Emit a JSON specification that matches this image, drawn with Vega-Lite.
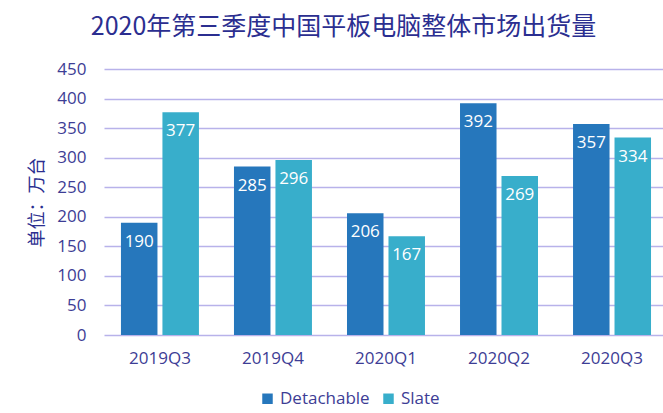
{
  "$schema": "https://vega.github.io/schema/vega-lite/v6.json",
  "autosize": "none",
  "width": 559,
  "height": 266,
  "padding": {"left": 104, "top": 69, "right": 0, "bottom": 78},
  "background": "white",
  "config": {
    "font": "Open Sans, Noto Sans CJK SC",
    "view": {"stroke": null}
  },
  "title": {
    "text": "2020年第三季度中国平板电脑整体市场出货量",
    "fontSize": 25,
    "fontWeight": "normal",
    "color": "#2B2E90",
    "font": "Noto Sans CJK SC",
    "anchor": "middle",
    "dx": -40,
    "offset": 20
  },
  "data": {
    "values": [
      {"quarter": "2019Q3", "type": "Detachable", "value": 190},
      {"quarter": "2019Q3", "type": "Slate", "value": 377},
      {"quarter": "2019Q4", "type": "Detachable", "value": 285},
      {"quarter": "2019Q4", "type": "Slate", "value": 296},
      {"quarter": "2020Q1", "type": "Detachable", "value": 206},
      {"quarter": "2020Q1", "type": "Slate", "value": 167},
      {"quarter": "2020Q2", "type": "Detachable", "value": 392},
      {"quarter": "2020Q2", "type": "Slate", "value": 269},
      {"quarter": "2020Q3", "type": "Detachable", "value": 357},
      {"quarter": "2020Q3", "type": "Slate", "value": 334}
    ]
  },
  "encoding": {
    "x": {
      "field": "quarter",
      "type": "nominal",
      "sort": null,
      "scale": {"paddingInner": 0.31, "paddingOuter": 0.128, "align": 0.586},
      "axis": {
        "title": null,
        "labelAngle": 0,
        "labelFontSize": 17,
        "labelColor": "#3D3D95",
        "labelPadding": 15,
        "ticks": false,
        "domain": false
      }
    },
    "xOffset": {"field": "type", "type": "nominal", "scale": {"paddingInner": 0.12}},
    "y": {
      "field": "value",
      "type": "quantitative",
      "scale": {"domain": [0, 450]},
      "axis": {
        "values": [0, 50, 100, 150, 200, 250, 300, 350, 400, 450],
        "title": "单位：万台",
        "titleFont": "Noto Sans CJK SC",
        "titleFontSize": 18,
        "titleFontWeight": "normal",
        "titleColor": "#2B2E90",
        "titleX": -67,
        "titleY": 133,
        "titleAngle": -90,
        "titleAlign": "center",
        "titleBaseline": "middle",
        "labelFontSize": 17,
        "labelColor": "#3D3D95",
        "labelPadding": 18,
        "labelOffset": 0,
        "ticks": true,
        "tickSize": 0,
        "tickOpacity": 0,
        "domain": false,
        "grid": true,
        "gridColor": "#B8B2EA",
        "gridWidth": 1.5
      }
    }
  },
  "layer": [
    {
      "mark": {"type": "bar"},
      "encoding": {
        "color": {
          "field": "type",
          "type": "nominal",
          "scale": {"domain": ["Detachable", "Slate"], "range": ["#2677BC", "#38AECB"]},
          "legend": {
            "title": null,
            "orient": "none",
            "direction": "horizontal",
            "legendX": 155,
            "legendY": 321,
            "symbolType": "square",
            "symbolSize": 110,
            "symbolStrokeWidth": 0,
            "labelFontSize": 17,
            "labelColor": "#3D3D95",
            "columnPadding": 10,
            "labelOffset": 4
          }
        }
      }
    },
    {
      "mark": {"type": "text", "color": "white", "fontSize": 17, "baseline": "middle", "dy": 19},
      "encoding": {
        "text": {"field": "value", "type": "quantitative"}
      }
    }
  ]
}
